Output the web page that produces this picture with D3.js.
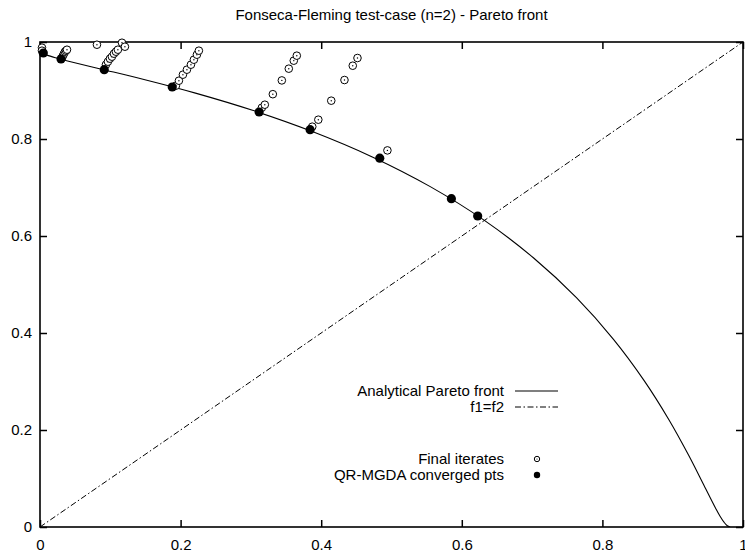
<!DOCTYPE html>
<html>
<head>
<meta charset="utf-8">
<script src="https://cdn.jsdelivr.net/npm/d3@7"></script>
<style>
  html, body { margin: 0; padding: 0; background: #fff; }
  svg { display: block; font-family: "Liberation Sans", Arial, Helvetica, sans-serif; }
</style>
</head>
<body>
<svg id="chart" width="745" height="555"></svg>
<script>
// ---- data ----
const title = "Fonseca-Fleming test-case (n=2) - Pareto front";
const xTicks = [0, 0.2, 0.4, 0.6, 0.8, 1];
const xTickLabels = ["0", "0.2", "0.4", "0.6", "0.8", "1"];
const yTicks = [0, 0.2, 0.4, 0.6, 0.8, 1];
const yTickLabels = ["0", "0.2", "0.4", "0.6", "0.8", "1"];

// Analytical Pareto front (f1, f2)
const frontF1 = [0, 0.00250, 0.00995, 0.02225, 0.03921, 0.08607, 0.14786, 0.22120, 0.30232, 0.38737, 0.47271, 0.55514, 0.63212,
                 0.70180, 0.76307, 0.81548, 0.85914, 0.89460, 0.92270, 0.94442, 0.96084, 0.96738, 0.97295, 0.97768, 0.98168];
const frontF2 = [0.98168, 0.97768, 0.97295, 0.96738, 0.96084, 0.94442, 0.92270, 0.89460, 0.85914, 0.81548, 0.76307, 0.70180, 0.63212,
                 0.55514, 0.47271, 0.38737, 0.30232, 0.22120, 0.14786, 0.08607, 0.03921, 0.02225, 0.00995, 0.00250, 0];

// f1 = f2 line
const diagF1 = [0, 1];
const diagF2 = [0, 1];

// Final iterates (open circles)
const iterF1 = [0.0028, 0.0028,
  0.0313, 0.0327, 0.0341, 0.0355, 0.0370, 0.0384,
  0.0810, 0.1166, 0.1208,
  0.0938, 0.0966, 0.0995, 0.1023, 0.1052, 0.1080, 0.1108,
  0.1933, 0.1976, 0.2033, 0.2090, 0.2147, 0.2189, 0.2232, 0.2260,
  0.3156, 0.3198, 0.3312, 0.3440, 0.3539, 0.3610, 0.3653,
  0.3873, 0.3959, 0.4143, 0.4331, 0.4449, 0.4516,
  0.4942];
const iterF2 = [0.9883, 0.9821,
  0.9676, 0.9718, 0.9759, 0.9800, 0.9821, 0.9841,
  0.9944, 0.9985, 0.9903,
  0.9532, 0.9594, 0.9656, 0.9697, 0.9759, 0.9800, 0.9841,
  0.9099, 0.9202, 0.9326, 0.9429, 0.9532, 0.9635, 0.9738, 0.9821,
  0.8645, 0.8707, 0.8924, 0.9208, 0.9450, 0.9615, 0.9718,
  0.8254, 0.8398, 0.8790, 0.9216, 0.9511, 0.9670,
  0.7765];

// QR-MGDA converged points (filled)
const convF1 = [0.0047, 0.0299, 0.0914, 0.1881, 0.3117, 0.3842, 0.4833, 0.5852, 0.6226];
const convF2 = [0.9773, 0.9649, 0.9429, 0.9072, 0.8557, 0.8192, 0.7604, 0.6769, 0.6412];

const legendLabels = ["Analytical Pareto front", "f1=f2", "Final iterates", "QR-MGDA converged pts"];

// ---- drawing ----
const svg = d3.select("#chart");
const L = 40, R = 743, T = 42, B = 527;
const x = d3.scaleLinear().domain([0, 1]).range([L, R]);
const y = d3.scaleLinear().domain([0, 1]).range([B, T]);
const fontSize = 15;

// title
svg.append("text").attr("x", (L + R) / 2).attr("y", 19.5)
  .attr("text-anchor", "middle").attr("font-size", fontSize).text(title);

// axes (inner ticks)
const tickLen = 7;
const gB = svg.append("g").attr("transform", `translate(0,${B})`)
  .call(d3.axisBottom(x).tickValues(xTicks).tickSize(-tickLen).tickPadding(12)
    .tickFormat((d, i) => xTickLabels[i]));
const gT = svg.append("g").attr("transform", `translate(0,${T})`)
  .call(d3.axisTop(x).tickValues(xTicks).tickSize(-tickLen).tickFormat(""));
const gL = svg.append("g").attr("transform", `translate(${L},0)`)
  .call(d3.axisLeft(y).tickValues(yTicks).tickSize(-tickLen).tickPadding(8)
    .tickFormat((d, i) => yTickLabels[i]));
const gR = svg.append("g").attr("transform", `translate(${R},0)`)
  .call(d3.axisRight(y).tickValues(yTicks).tickSize(-tickLen).tickFormat(""));
[gB, gT, gL, gR].forEach(g => {
  g.select(".domain").remove();
  g.selectAll(".tick line").attr("stroke", "#000").attr("stroke-width", 1.5);
  g.selectAll(".tick text").attr("font-size", fontSize).attr("fill", "#000")
    .attr("font-family", "'Liberation Sans', Arial, sans-serif");
});

// frame
svg.append("rect").attr("x", L).attr("y", T).attr("width", R - L).attr("height", B - T)
  .attr("fill", "none").attr("stroke", "#000").attr("stroke-width", 1.6);

// clip
svg.append("clipPath").attr("id", "clip").append("rect")
  .attr("x", L).attr("y", T - 6).attr("width", R - L).attr("height", B - T + 6);
const plot = svg.append("g").attr("clip-path", "url(#clip)");

// diagonal f1=f2
const dash = "6,2.5,1.5,2.5";
plot.append("path")
  .datum(diagF1.map((d, i) => [d, diagF2[i]]))
  .attr("d", d3.line().x(d => x(d[0])).y(d => y(d[1])))
  .attr("fill", "none").attr("stroke", "#000").attr("stroke-width", 1)
  .attr("stroke-dasharray", dash);

// Pareto front
plot.append("path")
  .datum(frontF1.map((d, i) => [d, frontF2[i]]))
  .attr("d", d3.line().curve(d3.curveCatmullRom.alpha(0.5)).x(d => x(d[0])).y(d => y(d[1])))
  .attr("fill", "none").attr("stroke", "#000").attr("stroke-width", 1.1);

// final iterates
const it = svg.append("g").selectAll("g").data(iterF1.map((d, i) => [d, iterF2[i]])).join("g")
  .attr("transform", d => `translate(${x(d[0])},${y(d[1])})`);
it.append("circle").attr("r", 3.8).attr("fill", "#fff").attr("stroke", "#000").attr("stroke-width", 1);
it.append("circle").attr("r", 0.7).attr("fill", "#000");

// converged points
svg.append("g").selectAll("circle").data(convF1.map((d, i) => [d, convF2[i]])).join("circle")
  .attr("cx", d => x(d[0])).attr("cy", d => y(d[1])).attr("r", 4.6).attr("fill", "#000");

// legend
const lgX = 504, symX1 = 515, symX2 = 558, symC = 537;
const lgY = [391, 407, 459, 475];
legendLabels.forEach((t, i) => {
  svg.append("text").attr("x", lgX).attr("y", lgY[i]).attr("dy", "0.35em")
    .attr("text-anchor", "end").attr("font-size", fontSize).text(t);
});
svg.append("line").attr("x1", symX1).attr("x2", symX2).attr("y1", lgY[0]).attr("y2", lgY[0])
  .attr("stroke", "#000").attr("stroke-width", 1.1);
svg.append("line").attr("x1", symX1).attr("x2", symX2).attr("y1", lgY[1]).attr("y2", lgY[1])
  .attr("stroke", "#000").attr("stroke-width", 1).attr("stroke-dasharray", dash);
svg.append("circle").attr("cx", symC).attr("cy", lgY[2]).attr("r", 2.7)
  .attr("fill", "#fff").attr("stroke", "#000").attr("stroke-width", 1);
svg.append("circle").attr("cx", symC).attr("cy", lgY[2]).attr("r", 0.6).attr("fill", "#000");
svg.append("circle").attr("cx", symC).attr("cy", lgY[3]).attr("r", 3.2).attr("fill", "#000");
</script>
</body>
</html>
